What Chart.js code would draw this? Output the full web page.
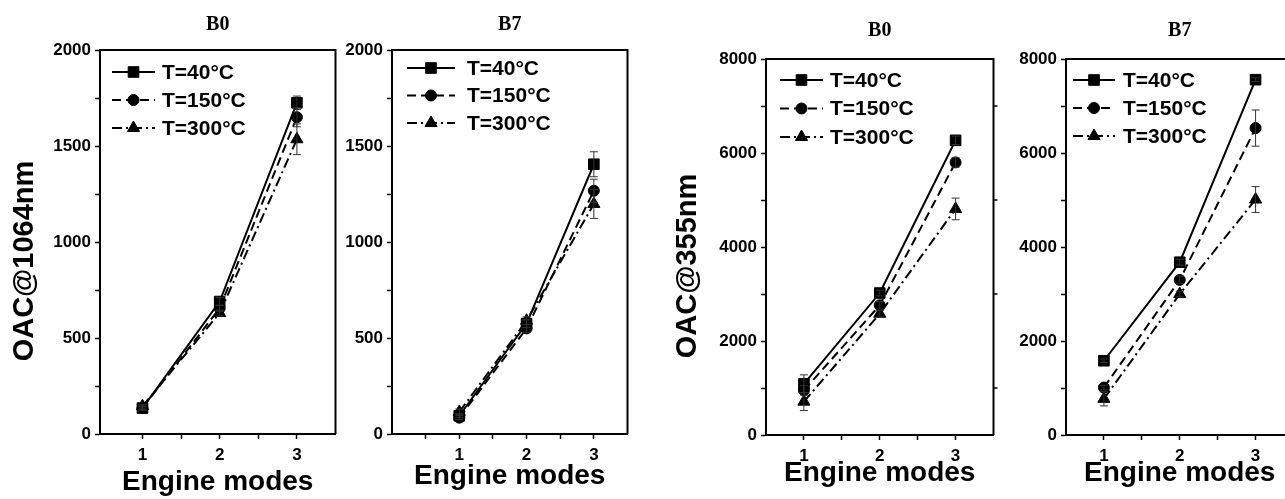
<!DOCTYPE html>
<html>
<head>
<meta charset="utf-8">
<script src="https://cdn.jsdelivr.net/npm/chart.js@4.4.0/dist/chart.umd.min.js"></script>
<style>
html, body { margin: 0; padding: 0; background: #fff; width: 1285px; height: 499px; overflow: hidden; }
#tela { position: relative; width: 1285px; height: 499px; overflow: hidden; }
canvas { position: absolute; top: 0; }
</style>
</head>
<body>
<div id="tela">
    <canvas id="g1064B0" width="344" height="499" style="left:0px;width:344px;height:499px"></canvas>
    <canvas id="g1064B7" width="300" height="499" style="left:336px;width:300px;height:499px"></canvas>
    <canvas id="g355B0" width="362" height="499" style="left:640px;width:362px;height:499px"></canvas>
    <canvas id="g355B7" width="302" height="499" style="left:1000px;width:302px;height:499px"></canvas>
</div>
<script>
var modos = [1, 2, 3]
var temperaturas = ['T=40°C', 'T=150°C', 'T=300°C']

// OAC@1064nm - B0
var b0_1064_t40 = [135, 690, 1725]
var b0_1064_t150 = [135, 655, 1650]
var b0_1064_t300 = [145, 630, 1535]
var b0_1064_erro40 = [10, 20, 35]
var b0_1064_erro150 = [10, 15, 50]
var b0_1064_erro300 = [10, 15, 80]

// OAC@1064nm - B7
var b7_1064_t40 = [95, 575, 1405]
var b7_1064_t150 = [85, 550, 1267]
var b7_1064_t300 = [115, 590, 1198]
var b7_1064_erro40 = [10, 20, 65]
var b7_1064_erro150 = [10, 20, 60]
var b7_1064_erro300 = [15, 20, 75]

// OAC@355nm - B0
var b0_355_t40 = [1090, 3020, 6270]
var b0_355_t150 = [950, 2760, 5800]
var b0_355_t300 = [710, 2580, 4810]
var b0_355_erro40 = [190, 60, 90]
var b0_355_erro150 = [100, 80, 100]
var b0_355_erro300 = [190, 70, 230]

// OAC@355nm - B7
var b7_355_t40 = [1580, 3677, 7560]
var b7_355_t150 = [1010, 3300, 6530]
var b7_355_t300 = [770, 3000, 5010]
var b7_355_erro40 = [40, 60, 40]
var b7_355_erro150 = [50, 80, 385]
var b7_355_erro300 = [150, 60, 275]

// eixos
var ticksX = [1, 1.5, 2, 2.5, 3]
var ticksXcomMeio = [0.5, 1, 1.5, 2, 2.5, 3]
var rotulosX = [1, 2, 3]
var ticksY1064 = [0, 250, 500, 750, 1000, 1250, 1500, 1750, 2000]
var rotulosY1064 = [0, 500, 1000, 1500, 2000]
var ticksY355 = [0, 1000, 2000, 3000, 4000, 5000, 6000, 7000, 8000]
var rotulosY355 = [0, 2000, 4000, 6000, 8000]
var ticksDireita355 = [1000, 3000, 5000, 7000]

var fonteSans = "'Liberation Sans', Arial, sans-serif"
Chart.defaults.font.family = fonteSans
Chart.defaults.color = '#000'

var estilos = [
    { pointStyle: 'rect', pointRadius: 7.5, borderDash: [] },
    { pointStyle: 'circle', pointRadius: 5.5, borderDash: [9, 5] },
    { pointStyle: 'triangle', pointRadius: 7, borderDash: [10, 4, 2, 4] }
]

// moldura em volta da area do grafico (+ tracinhos do lado direito)
var moldura = {
    id: 'moldura',
    afterDraw: function (chart, args, op) {
        var a = chart.chartArea
        var ctx = chart.ctx
        ctx.save()
        ctx.strokeStyle = '#000'
        ctx.lineWidth = 2
        ctx.beginPath()
        ctx.moveTo(a.left, a.bottom)
        ctx.lineTo(a.left, a.top)
        ctx.lineTo(a.right, a.top)
        if (!op || op.direita !== false) ctx.lineTo(a.right, a.bottom)
        ctx.stroke()
        if (op && op.ticksDireita) {
            ctx.lineWidth = 1.5
            op.ticksDireita.forEach(function (v) {
                var py = chart.scales.y.getPixelForValue(v)
                ctx.beginPath()
                ctx.moveTo(a.right, py)
                ctx.lineTo(a.right + 4, py)
                ctx.stroke()
            })
        }
        ctx.restore()
    }
}

// barras de erro a partir do array "erros" de cada dataset
var barrasErro = {
    id: 'barrasErro',
    afterDatasetsDraw: function (chart) {
        var ctx = chart.ctx
        var x = chart.scales.x
        var y = chart.scales.y
        ctx.save()
        ctx.strokeStyle = '#333'
        ctx.lineWidth = 1
        chart.data.datasets.forEach(function (ds) {
            if (!ds.erros) return
            ds.data.forEach(function (p, i) {
                var px = x.getPixelForValue(p.x)
                var topo = y.getPixelForValue(p.y + ds.erros[i])
                var base = y.getPixelForValue(p.y - ds.erros[i])
                ctx.beginPath()
                ctx.moveTo(px, topo)
                ctx.lineTo(px, base)
                ctx.moveTo(px - 4, topo)
                ctx.lineTo(px + 4, topo)
                ctx.moveTo(px - 4, base)
                ctx.lineTo(px + 4, base)
                ctx.stroke()
            })
        })
        ctx.restore()
    }
}

function desenharMarcador(ctx, estilo, cx, cy) {
    if (Chart.helpers && Chart.helpers.drawPoint) {
        Chart.helpers.drawPoint(ctx, { pointStyle: estilo.pointStyle, radius: estilo.pointRadius, rotation: 0, borderWidth: 1 }, cx, cy)
        return
    }
    var r = estilo.pointRadius
    ctx.beginPath()
    if (estilo.pointStyle == 'rect') {
        var s = r * Math.SQRT1_2
        ctx.rect(cx - s, cy - s, 2 * s, 2 * s)
    } else if (estilo.pointStyle == 'circle') {
        ctx.arc(cx, cy, r, 0, Math.PI * 2)
    } else {
        ctx.moveTo(cx, cy - r)
        ctx.lineTo(cx + r * 0.866, cy + r / 2)
        ctx.lineTo(cx - r * 0.866, cy + r / 2)
        ctx.closePath()
    }
    ctx.fill()
    ctx.stroke()
}

// legenda dentro da area do grafico (linha + marcador + texto)
var legendaInterna = {
    id: 'legendaInterna',
    afterDraw: function (chart, args, op) {
        if (!op || !op.mostrar) return
        var a = chart.chartArea
        var ctx = chart.ctx
        ctx.save()
        chart.data.datasets.forEach(function (ds, i) {
            var yy = a.top + op.y + i * op.passo
            var x0 = a.left + op.x
            ctx.strokeStyle = '#000'
            ctx.fillStyle = '#000'
            ctx.lineWidth = 2
            ctx.setLineDash(ds.borderDash || [])
            ctx.beginPath()
            ctx.moveTo(x0, yy)
            ctx.lineTo(x0 + op.comp, yy)
            ctx.stroke()
            ctx.setLineDash([])
            ctx.lineWidth = 1
            desenharMarcador(ctx, estilos[i], x0 + op.comp / 2, yy)
            ctx.font = 'bold 21px ' + fonteSans
            ctx.textBaseline = 'middle'
            ctx.textAlign = 'left'
            ctx.fillText(ds.label, a.left + op.texto, yy + 1)
        })
        ctx.restore()
    }
}

// titulo do eixo Y (posicao livre)
var tituloEixoY = {
    id: 'tituloEixoY',
    afterDraw: function (chart, args, op) {
        if (!op || !op.texto) return
        var ctx = chart.ctx
        ctx.save()
        ctx.translate(op.x, op.y)
        ctx.rotate(-Math.PI / 2)
        ctx.font = 'bold 29px ' + fonteSans
        ctx.fillStyle = '#000'
        ctx.textAlign = 'center'
        ctx.textBaseline = 'middle'
        ctx.fillText(op.texto, 0, 0)
        ctx.restore()
    }
}

Chart.register(moldura, barrasErro, legendaInterna, tituloEixoY)

function montarDataset(i, valores, erros) {
    return {
        label: temperaturas[i],
        data: modos.map(function (m, k) { return { x: m, y: valores[k] } }),
        erros: erros,
        borderColor: '#000',
        backgroundColor: '#000',
        borderWidth: 2,
        borderDash: estilos[i].borderDash,
        pointStyle: estilos[i].pointStyle,
        pointRadius: estilos[i].pointRadius,
        pointBackgroundColor: '#000',
        pointBorderColor: '#000',
        pointBorderWidth: 1,
        fill: false,
        tension: 0
    }
}

function plotarPainel(id, p) {
    new Chart(document.getElementById(id), {
        type: 'line',
        data: {
            datasets: [
                montarDataset(0, p.series[0], p.erros[0]),
                montarDataset(1, p.series[1], p.erros[1]),
                montarDataset(2, p.series[2], p.erros[2])
            ]
        },
        options: {
            responsive: false,
            animation: false,
            devicePixelRatio: 1,
            layout: { padding: { left: 0, right: 0, top: 0, bottom: 0 } },
            plugins: {
                legend: { display: false },
                tooltip: { enabled: false },
                title: {
                    display: true,
                    text: p.titulo,
                    fullSize: false,
                    color: '#000',
                    font: { family: "'Liberation Serif', 'Times New Roman', serif", size: 20, weight: 'bold', lineHeight: 1.2 },
                    padding: p.paddingTitulo
                },
                moldura: { ticksDireita: p.ticksDireita, direita: p.bordaDireita },
                legendaInterna: p.legenda,
                tituloEixoY: p.tituloY
            },
            scales: {
                x: {
                    type: 'linear',
                    min: p.xMin,
                    max: p.xMax,
                    afterBuildTicks: function (s) { s.ticks = p.ticksX.map(function (v) { return { value: v } }) },
                    afterFit: function (s) { s.height = p.alturaX },
                    border: { display: true, color: '#000', width: 2 },
                    grid: { display: true, drawOnChartArea: false, drawTicks: true, tickLength: 5, tickColor: '#000', tickWidth: 1.5 },
                    ticks: {
                        autoSkip: false,
                        maxRotation: 0,
                        padding: 6,
                        color: '#000',
                        font: { size: 17, weight: 'bold' },
                        callback: function (v) { return rotulosX.indexOf(v) >= 0 ? v : '' }
                    },
                    title: {
                        display: true,
                        text: 'Engine modes',
                        color: '#000',
                        font: { size: 28, weight: 'bold', lineHeight: 1.2 },
                        padding: { top: 0, bottom: p.paddingTituloX }
                    }
                },
                y: {
                    type: 'linear',
                    min: p.yMin,
                    max: p.yMax,
                    afterBuildTicks: function (s) { s.ticks = p.ticksY.map(function (v) { return { value: v } }) },
                    afterFit: function (s) { s.width = p.larguraY },
                    border: { display: true, color: '#000', width: 2 },
                    grid: { display: true, drawOnChartArea: false, drawTicks: true, tickLength: 5, tickColor: '#000', tickWidth: 1.5 },
                    ticks: {
                        autoSkip: false,
                        padding: 4,
                        color: '#000',
                        font: { size: 17, weight: 'bold' },
                        callback: function (v) { return p.rotulosY.indexOf(v) >= 0 ? v : '' }
                    }
                }
            }
        }
    })
}

plotarPainel('g1064B0', {
    titulo: 'B0',
    series: [b0_1064_t40, b0_1064_t150, b0_1064_t300],
    erros: [b0_1064_erro40, b0_1064_erro150, b0_1064_erro300],
    xMin: 0.45, xMax: 3.5, ticksX: ticksX,
    yMin: 0, yMax: 2000, ticksY: ticksY1064, rotulosY: rotulosY1064,
    larguraY: 100, alturaX: 65, paddingTituloX: 0,
    paddingTitulo: { top: 13, bottom: 13 },
    legenda: { mostrar: true, x: 12, y: 22, passo: 28, comp: 43, texto: 62 },
    tituloY: { texto: 'OAC@1064nm', x: 25, y: 261 }
})

plotarPainel('g1064B7', {
    titulo: 'B7',
    series: [b7_1064_t40, b7_1064_t150, b7_1064_t300],
    erros: [b7_1064_erro40, b7_1064_erro150, b7_1064_erro300],
    xMin: 0, xMax: 3.5, ticksX: ticksXcomMeio,
    yMin: 0, yMax: 2000, ticksY: ticksY1064, rotulosY: rotulosY1064,
    larguraY: 56, alturaX: 65, paddingTituloX: 6,
    paddingTitulo: { top: 13, bottom: 13 },
    legenda: { mostrar: true, x: 15, y: 18, passo: 27.5, comp: 48, texto: 75 },
    tituloY: false
})

plotarPainel('g355B0', {
    titulo: 'B0',
    series: [b0_355_t40, b0_355_t150, b0_355_t300],
    erros: [b0_355_erro40, b0_355_erro150, b0_355_erro300],
    xMin: 0.5, xMax: 3.5, ticksX: ticksX,
    yMin: 0, yMax: 8000, ticksY: ticksY355, rotulosY: rotulosY355,
    ticksDireita: ticksDireita355,
    larguraY: 126, alturaX: 64, paddingTituloX: 9,
    paddingTitulo: { top: 19, bottom: 16 },
    legenda: { mostrar: true, x: 14, y: 21, passo: 28.5, comp: 43, texto: 64 },
    tituloY: { texto: 'OAC@355nm', x: 48, y: 266 }
})

// o ultimo painel fica cortado na borda direita da imagem
plotarPainel('g355B7', {
    titulo: 'B7',
    series: [b7_355_t40, b7_355_t150, b7_355_t300],
    erros: [b7_355_erro40, b7_355_erro150, b7_355_erro300],
    xMin: 0.5, xMax: 3.5, ticksX: ticksX,
    yMin: 0, yMax: 8000, ticksY: ticksY355, rotulosY: rotulosY355,
    bordaDireita: false,
    larguraY: 66, alturaX: 64, paddingTituloX: 9,
    paddingTitulo: { top: 19, bottom: 16 },
    legenda: { mostrar: true, x: 7, y: 21, passo: 28, comp: 42, texto: 57 },
    tituloY: false
})
</script>
</body>
</html>
